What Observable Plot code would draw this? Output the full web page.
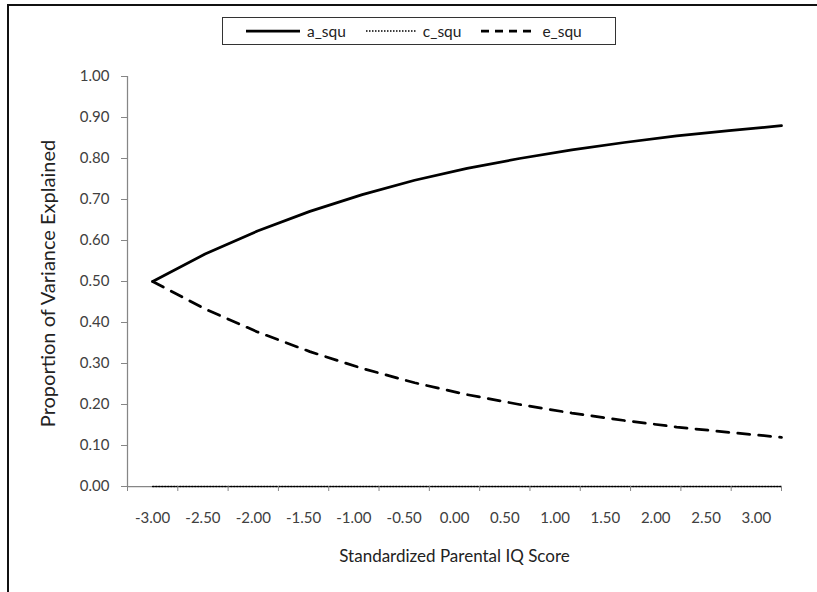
<!DOCTYPE html>
<html>
<head>
<meta charset="utf-8">
<script src="https://cdn.jsdelivr.net/npm/d3@7"></script>
<script src="https://cdn.jsdelivr.net/npm/@observablehq/plot@0.6"></script>
<style>
  html, body { margin: 0; padding: 0; background: #fff; overflow: hidden; width: 817px; height: 592px; }
  #wrap { position: relative; width: 817px; height: 592px; font-family: Lato, "Open Sans", sans-serif; }
  #border { position: absolute; left: 7px; top: 4px; width: 1000px; height: 800px; border-left: 2px solid #111; border-top: 2px solid #111; }
  .layer { position: absolute; left: 0; top: 0; }
  #legend { position: absolute; left: 222px; top: 17px; width: 394px; height: 28px; border: 1px solid #333; background: #fff;
            display: flex; align-items: center; padding-left: 23px; box-sizing: border-box; font-size: 15.5px; color: #222; }
  .item { display: flex; align-items: center; margin-right: 20px; }
  .item span { margin-left: 7px; }
</style>
</head>
<body>
<div id="wrap">
  <div id="border"></div>
  <div id="legend"></div>
</div>
<script>
// ---- data ----
const xValues = [-3.0, -2.5, -2.0, -1.5, -1.0, -0.5, 0.0, 0.5, 1.0, 1.5, 2.0, 2.5, 3.0];
const aSqu = [0.500, 0.567, 0.623, 0.671, 0.712, 0.747, 0.776, 0.800, 0.821, 0.839, 0.855, 0.868, 0.880];
const cSqu = [0, 0, 0, 0, 0, 0, 0, 0, 0, 0, 0, 0, 0];
const eSqu = [0.500, 0.433, 0.377, 0.329, 0.288, 0.253, 0.224, 0.200, 0.179, 0.161, 0.145, 0.132, 0.120];
const xTickLabels = ["-3.00", "-2.50", "-2.00", "-1.50", "-1.00", "-0.50", "0.00", "0.50", "1.00", "1.50", "2.00", "2.50", "3.00"];
const yTicks = [0, 0.1, 0.2, 0.3, 0.4, 0.5, 0.6, 0.7, 0.8, 0.9, 1.0];
const seriesNames = ["a_squ", "c_squ", "e_squ"];
const xTitle = "Standardized Parental IQ Score";
const yTitle = "Proportion of Variance Explained";

// ---- styles ----
const seriesStyle = {
  a_squ: { stroke: "#000", strokeWidth: 2.75, strokeDasharray: null },
  c_squ: { stroke: "#000", strokeWidth: 1.5, strokeDasharray: "1.5,1.5" },
  e_squ: { stroke: "#000", strokeWidth: 2.75, strokeDasharray: "12,9" }
};
const seriesValues = { a_squ: aSqu, c_squ: cSqu, e_squ: eSqu };

const W = 817, H = 592;
const margins = { marginLeft: 127, marginRight: 36, marginTop: 76, marginBottom: 106 };
const axisGray = "#868686";
const baseStyle = { background: "transparent", fontFamily: "Lato, 'Open Sans', sans-serif", fontSize: "15px", color: "#404040", overflow: "visible" };

const rows = name => xValues.map((x, i) => ({ x, y: seriesValues[name][i], series: name }));

const lineMarks = ["c_squ", "e_squ", "a_squ"].map(name => {
  const s = seriesStyle[name];
  const opts = { x: "x", y: "y", stroke: s.stroke, strokeWidth: s.strokeWidth };
  if (s.strokeDasharray) opts.strokeDasharray = s.strokeDasharray;
  return Plot.line(rows(name), opts);
});

// Data layer (value x-scale) with y axis
const plotA = Plot.plot({
  width: W, height: H, ...margins,
  style: baseStyle,
  x: { domain: [-3.24, 3], axis: null },
  y: { domain: [0, 1] },
  marks: [
    Plot.axisY({ ticks: yTicks, tickFormat: d => d.toFixed(2), tickSize: 6, tickPadding: 12, stroke: axisGray, label: null }),
    Plot.ruleY([0], { stroke: axisGray, strokeWidth: 1.25 }),
    ...lineMarks,
    Plot.text([yTitle], { frameAnchor: "left", textAnchor: "middle", lineAnchor: "middle", rotate: -90, dx: -79, dy: 2, fontSize: 20, fill: "#222" }),
    Plot.text([xTitle], { frameAnchor: "bottom", textAnchor: "middle", lineAnchor: "middle", dy: 70, fontSize: 17, fill: "#222" })
  ]
});

// Category axis layer (labels centred between tick marks)
const nCat = xTickLabels.length;
const plotB = Plot.plot({
  width: W, height: H, ...margins,
  style: baseStyle,
  x: { domain: [0, nCat] },
  marks: [
    Plot.ruleX([0], { stroke: axisGray, strokeWidth: 1.25 }),
    Plot.axisX({ ticks: d3.range(nCat + 1), tickFormat: () => "", tickSize: 5, stroke: axisGray, label: null }),
    Plot.axisX({ ticks: d3.range(nCat).map(i => i + 0.5), tickFormat: v => xTickLabels[Math.floor(v)], tickSize: 0, tickPadding: 26, label: null })
  ]
});

const wrap = document.getElementById("wrap");
plotA.classList.add("layer");
plotB.classList.add("layer");
plotB.style.pointerEvents = "none";
wrap.insertBefore(plotA, document.getElementById("legend"));
wrap.insertBefore(plotB, document.getElementById("legend"));

// Legend
const legend = document.getElementById("legend");
const sampleWidths = { a_squ: 54, c_squ: 50, e_squ: 54 };
seriesNames.forEach(name => {
  const s = seriesStyle[name];
  const item = document.createElement("div");
  item.className = "item";
  const w = sampleWidths[name];
  const svg = d3.create("svg").attr("width", w).attr("height", 10);
  const ln = svg.append("line").attr("x1", 0).attr("x2", w).attr("y1", 5).attr("y2", 5)
    .attr("stroke", s.stroke).attr("stroke-width", s.strokeWidth);
  if (s.strokeDasharray) ln.attr("stroke-dasharray", name === "e_squ" ? "8,6" : s.strokeDasharray);
  item.appendChild(svg.node());
  const sp = document.createElement("span");
  sp.textContent = name;
  item.appendChild(sp);
  legend.appendChild(item);
});
</script>
</body>
</html>
